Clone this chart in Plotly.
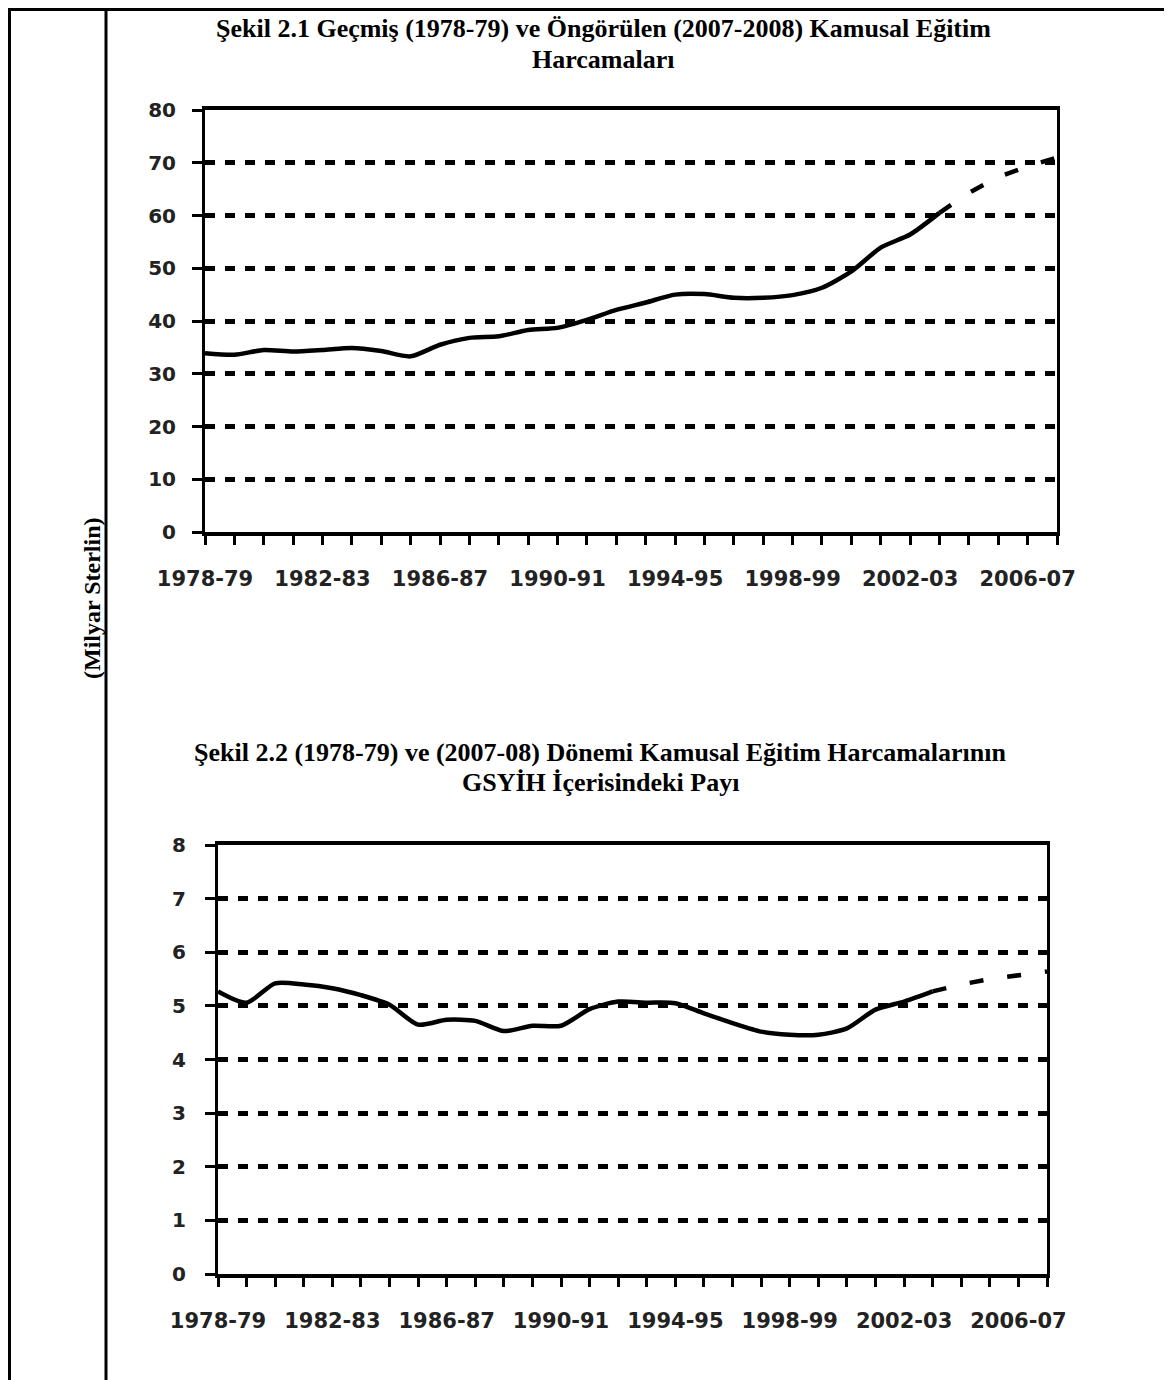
import plotly.graph_objects as go

# ---------------- data ----------------
years = [f"{y}-{(y + 1) % 100:02d}" for y in range(1978, 2008)]   # 1978-79 ... 2007-08

spend_actual = [33.9, 33.6, 34.5, 34.2, 34.5, 34.9, 34.3, 33.3, 35.5, 36.8,
                37.1, 38.3, 38.7, 40.2, 42.1, 43.5, 45.0, 45.1, 44.4, 44.4,
                44.9, 46.3, 49.4, 53.9, 56.4, 60.5]
spend_proj = [60.5, 64.3, 67.3, 69.3, 71.0]

gdp_actual = [5.27, 5.06, 5.42, 5.40, 5.33, 5.20, 5.02, 4.65, 4.74, 4.72,
              4.53, 4.63, 4.63, 4.94, 5.08, 5.06, 5.05, 4.86, 4.68, 4.52,
              4.46, 4.46, 4.58, 4.93, 5.08, 5.27]
gdp_proj = [5.27, 5.40, 5.50, 5.58, 5.64]

tick_text = [y if i % 4 == 0 else "" for i, y in enumerate(years)]

title1 = ["Şekil 2.1 Geçmiş (1978-79) ve Öngörülen (2007-2008) Kamusal Eğitim",
          "Harcamaları"]
title2 = ["Şekil 2.2 (1978-79) ve (2007-08) Dönemi Kamusal Eğitim Harcamalarının",
          "GSYİH İçerisindeki Payı"]
y_title = "(Milyar Sterlin)"

# ---------------- figure ----------------
OFF = 8                      # default page body margin
W, H = 1172 - OFF, 1380 - OFF


def px(x):
    return (x - OFF) / W


def py(y):
    return 1 - (y - OFF) / H


fig = go.Figure()

n_act = len(spend_actual)
proj_x = years[n_act - 1:]

line_style = dict(color="black", width=4.5, shape="spline", smoothing=0.7)
proj_style = dict(color="black", width=4.5, dash="14px,24px")

fig.add_trace(go.Scatter(x=years[:n_act], y=spend_actual, mode="lines",
                         line=line_style, xaxis="x", yaxis="y", showlegend=False))
fig.add_trace(go.Scatter(x=proj_x, y=spend_proj, mode="lines",
                         line=proj_style, xaxis="x", yaxis="y", showlegend=False))
fig.add_trace(go.Scatter(x=years[:len(gdp_actual)], y=gdp_actual, mode="lines",
                         line=line_style, xaxis="x2", yaxis="y2", showlegend=False))
fig.add_trace(go.Scatter(x=years[len(gdp_actual) - 1:], y=gdp_proj, mode="lines",
                         line=proj_style, xaxis="x2", yaxis="y2", showlegend=False))

xtick_font = dict(family="DejaVu Sans", size=21, color="#222222", weight="bold")
ytick_font = dict(family="DejaVu Sans", size=20, color="#222222", weight="bold")


def xaxis_cfg(x0, x1, anchor):
    return dict(
        type="category", categoryorder="array", categoryarray=years,
        range=[0, len(years) - 1],
        domain=[px(x0), px(x1)], anchor=anchor, automargin=False,
        tickmode="array", tickvals=years, ticktext=tick_text,
        ticks="outside", ticklen=9, tickwidth=3, tickcolor="black",
        tickangle=0, ticklabelstandoff=16,
        showline=True, linecolor="black", linewidth=4, mirror=True,
        showgrid=False, zeroline=False, tickfont=xtick_font,
    )


def yaxis_cfg(y_top, y_bot, anchor, rng, dtick, standoff):
    return dict(
        domain=[py(y_bot), py(y_top)], anchor=anchor, automargin=False,
        range=rng, dtick=dtick, tick0=0,
        ticks="outside", ticklen=10, tickwidth=3, tickcolor="black",
        ticklabelstandoff=standoff,
        showline=True, linecolor="black", linewidth=3, mirror=True,
        showgrid=True, gridcolor="black", gridwidth=5, griddash="10px,10px",
        zeroline=False, tickfont=ytick_font,
    )


fig.update_layout(
    width=W, height=H, autosize=False,
    margin=dict(l=0, r=0, t=0, b=0, autoexpand=False),
    paper_bgcolor="white", plot_bgcolor="white",
    xaxis=xaxis_cfg(205, 1057, "y"),
    yaxis=yaxis_cfg(110, 532, "x", [0, 80], 10, 12),
    xaxis2=xaxis_cfg(218, 1047, "y2"),
    yaxis2=yaxis_cfg(845, 1274, "x2", [0, 8], 1, 15),
)

title_font = dict(family="Liberation Serif", size=26, color="black", weight="bold")
annots = []
for txt, yy in zip(title1, [29, 59]):
    annots.append(dict(text=txt, x=px(603), y=py(yy), xref="paper", yref="paper",
                       showarrow=False, font=title_font, xanchor="center", yanchor="middle"))
for txt, yy in zip(title2, [752, 782]):
    annots.append(dict(text=txt, x=px(600), y=py(yy), xref="paper", yref="paper",
                       showarrow=False, font=title_font, xanchor="center", yanchor="middle"))
annots.append(dict(text=y_title, x=px(92), y=py(598), xref="paper", yref="paper",
                   showarrow=False, textangle=-90,
                   font=dict(title_font, size=24),
                   xanchor="center", yanchor="middle"))
fig.update_layout(annotations=annots)

# page frame (table cell borders)
frame = dict(type="line", xref="paper", yref="paper", line=dict(color="black", width=3))
fig.update_layout(shapes=[
    dict(frame, x0=px(9.5), x1=px(9.5), y0=0, y1=1),
    dict(frame, x0=px(106), x1=px(106), y0=0, y1=1),
    dict(frame, x0=px(9.5), x1=1, y0=py(9.5), y1=py(9.5)),
])

fig.write_html("out.html")
